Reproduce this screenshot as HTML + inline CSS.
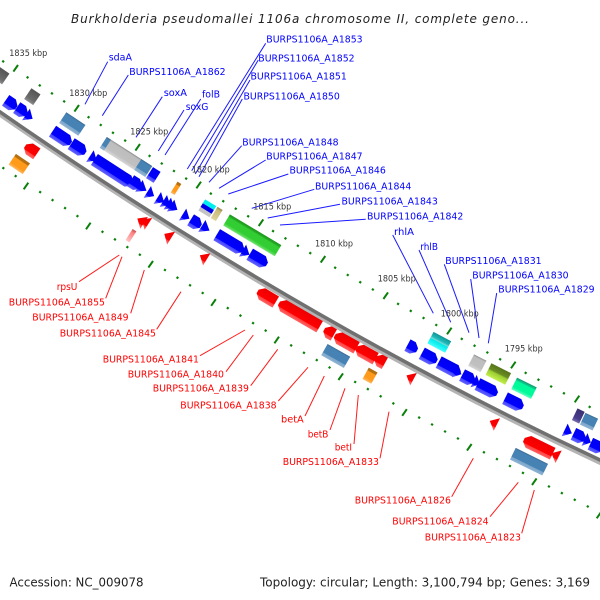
<!DOCTYPE html>
<html><head><meta charset="utf-8"><style>
html,body{margin:0;padding:0;background:#fff;width:600px;height:600px;overflow:hidden}
svg{display:block}
text{font-family:"DejaVu Sans","Liberation Sans",sans-serif}
.b{fill:#00f;font-size:10px}.r{fill:#f00;font-size:10px}.k{fill:#333;font-size:9px}.f{fill:#222;font-size:12px}
.lb line{stroke:#1a1aff;stroke-width:1}.lr line{stroke:#ff1a1a;stroke-width:1}
</style></head><body>
<svg width="600" height="600" viewBox="0 0 600 600" xmlns="http://www.w3.org/2000/svg">
<defs>
<linearGradient id="gb" x1="0" y1="0" x2="0" y2="1"><stop offset="0" stop-color="#0000ee"/><stop offset=".72" stop-color="#00f"/><stop offset=".74" stop-color="#4040ff"/><stop offset="1" stop-color="#6565ff"/></linearGradient>
<linearGradient id="gr" x1="0" y1="0" x2="0" y2="1"><stop offset="0" stop-color="#ee0000"/><stop offset=".72" stop-color="#f00"/><stop offset=".74" stop-color="#ff4040"/><stop offset="1" stop-color="#ff6565"/></linearGradient>
<linearGradient id="gs" x1="0" y1="0" x2="0" y2="1"><stop offset="0" stop-color="#38688f"/><stop offset=".12" stop-color="#4682b4"/><stop offset=".72" stop-color="#4682b4"/><stop offset=".75" stop-color="#7ba5c9"/><stop offset="1" stop-color="#8fb4d4"/></linearGradient>
<linearGradient id="gg" x1="0" y1="0" x2="0" y2="1"><stop offset="0" stop-color="#8c8c8c"/><stop offset=".14" stop-color="#bdbdbd"/><stop offset=".72" stop-color="#c0c0c0"/><stop offset="1" stop-color="#d8d8d8"/></linearGradient>
<linearGradient id="gd" x1="0" y1="0" x2="0" y2="1"><stop offset="0" stop-color="#555"/><stop offset=".72" stop-color="#6c6c6c"/><stop offset="1" stop-color="#8e8e8e"/></linearGradient>
<linearGradient id="go" x1="0" y1="0" x2="0" y2="1"><stop offset="0" stop-color="#b06c10"/><stop offset=".22" stop-color="#b87410"/><stop offset=".25" stop-color="#ff9a1a"/><stop offset=".75" stop-color="#ff9a1a"/><stop offset="1" stop-color="#ffbb66"/></linearGradient>
<linearGradient id="ge" x1="0" y1="0" x2="0" y2="1"><stop offset="0" stop-color="#1d951d"/><stop offset=".18" stop-color="#26aa26"/><stop offset=".25" stop-color="#32cd32"/><stop offset=".75" stop-color="#32cd32"/><stop offset="1" stop-color="#72e472"/></linearGradient>
<linearGradient id="gl" x1="0" y1="0" x2="0" y2="1"><stop offset="0" stop-color="#56741b"/><stop offset=".45" stop-color="#6b8e23"/><stop offset=".55" stop-color="#9acd32"/><stop offset="1" stop-color="#c4f04a"/></linearGradient>
<linearGradient id="gp" x1="0" y1="0" x2="0" y2="1"><stop offset="0" stop-color="#159a70"/><stop offset=".18" stop-color="#0cc78a"/><stop offset=".25" stop-color="#00fa9a"/><stop offset=".75" stop-color="#00fa9a"/><stop offset="1" stop-color="#66ffc4"/></linearGradient>
<linearGradient id="gc" x1="0" y1="0" x2="0" y2="1"><stop offset="0" stop-color="#109494"/><stop offset=".35" stop-color="#20bcbc"/><stop offset=".47" stop-color="#7fd8d8"/><stop offset=".55" stop-color="#00e8e8"/><stop offset="1" stop-color="#40ffff"/></linearGradient>
<linearGradient id="gt" x1="0" y1="0" x2="0" y2="1"><stop offset="0" stop-color="#8f8550"/><stop offset=".22" stop-color="#c8bb7a"/><stop offset="1" stop-color="#ded49a"/></linearGradient>
<linearGradient id="gk" x1="0" y1="0" x2="0" y2="1"><stop offset="0" stop-color="#c05050"/><stop offset=".22" stop-color="#ff8080"/><stop offset="1" stop-color="#ffc4c4"/></linearGradient>
<linearGradient id="gv" x1="0" y1="0" x2="0" y2="1"><stop offset="0" stop-color="#3a3070"/><stop offset=".72" stop-color="#483d8b"/><stop offset="1" stop-color="#7a70b0"/></linearGradient>
</defs>

<!-- backbone -->
<path d="M-5 112 Q300 324 605 465.8" fill="none" stroke="#b4b4b4" stroke-width="3"/>
<path d="M-5 108.5 Q300 320.6 605 462.3" fill="none" stroke="#707070" stroke-width="3.6"/>

<!-- tick dots -->
<path fill="none" stroke="#0a800a" stroke-width="2.2" stroke-linecap="butt" d="M2.5 62.3l1.3 -1.8M26.9 78.3l1.3 -1.8M39.1 86.3l1.3 -1.8M51.3 94.3l1.3 -1.8M63.5 102.3l1.3 -1.8M87.9 118.1l1.3 -1.8M100.1 125.9l1.3 -1.8M112.3 133.7l1.3 -1.8M124.5 141.5l1.3 -1.8M148.9 156.8l1.3 -1.8M161.1 164.4l1.3 -1.8M173.3 171.9l1.3 -1.8M185.5 179.5l1.3 -1.8M210.2 194.5l1.3 -1.8M222.6 202.1l1.3 -1.8M235.1 209.6l1.3 -1.8M247.5 217.2l1.3 -1.8M272.4 232l1.3 -1.8M284.8 239.3l1.3 -1.8M297.2 246.7l1.3 -1.8M309.6 254l1.3 -1.8M334.5 268.6l1.3 -1.8M347.1 275.9l1.3 -1.8M359.6 283.1l1.3 -1.8M372.2 290.4l1.3 -1.8M397.4 304.8l1.3 -1.8M410.1 311.8l1.3 -1.8M422.9 318.9l1.3 -1.8M435.6 325.9l1.3 -1.8M461.1 339.8l1.3 -1.8M473.9 346.6l1.3 -1.8M486.7 353.4l1.3 -1.8M499.5 360.2l1.3 -1.8M525 373.8l1.3 -1.8M537.8 380.6l1.3 -1.8M550.5 387.4l1.3 -1.8M563.3 394.2l1.3 -1.8M589 407.8l1.3 -1.8
M2.7 169l1.3 -1.8M15 177l1.3 -1.8M39.5 193l1.3 -1.8M51.9 201l1.3 -1.8M64.4 209l1.3 -1.8M76.8 217l1.3 -1.8M101.8 232.7l1.3 -1.8M114.3 240.3l1.3 -1.8M126.7 248l1.3 -1.8M139.2 255.6l1.3 -1.8M164.3 270.9l1.3 -1.8M176.8 278.6l1.3 -1.8M189.4 286.2l1.3 -1.8M202 293.9l1.3 -1.8M227.1 309l1.3 -1.8M239.8 316.5l1.3 -1.8M252.4 324l1.3 -1.8M265 331.5l1.3 -1.8M290.5 346.3l1.3 -1.8M303.3 353.7l1.3 -1.8M316.1 361l1.3 -1.8M328.9 368.4l1.3 -1.8M354.5 382.9l1.3 -1.8M367.2 390l1.3 -1.8M380 397.2l1.3 -1.8M392.7 404.3l1.3 -1.8M418.5 418.5l1.3 -1.8M431.4 425.4l1.3 -1.8M444.4 432.4l1.3 -1.8M457.3 439.4l1.3 -1.8M483.3 453.2l1.3 -1.8M496.3 460l1.3 -1.8M509.3 466.9l1.3 -1.8M522.3 473.8l1.3 -1.8M548.3 487.4l1.3 -1.8M561.2 494l1.3 -1.8M574.1 500.7l1.3 -1.8M587.1 507.4l1.3 -1.8"/>
<!-- long ticks -->
<path fill="none" stroke="#0a800a" stroke-width="2" d="M13.4 71.6l4.6 -6.6M74.4 111.6l4.6 -6.6M135.4 150.6l4.6 -6.6M196.4 188.3l4.6 -6.6M258.7 226l4.6 -6.6M320.7 262.6l4.6 -6.6M383.4 299l4.6 -6.6M447 334.3l4.6 -6.6M511 368.3l4.6 -6.6M574.7 402.3l4.6 -6.6
M23.7 189.3l4.6 -6.6M86 229.3l4.6 -6.6M148.4 267.6l4.6 -6.6M211.2 305.8l4.6 -6.6M274.4 343.3l4.6 -6.6M338.4 380l4.6 -6.6M402.2 415.8l4.6 -6.6M467 450.6l4.6 -6.6M532 485l4.6 -6.6M596.7 518.3l4.6 -6.6"/>

<!-- non-coding / row 2 features -->
<rect x="-7" y="-6.5" width="14" height="13" fill="url(#gd)" transform="translate(0 75) rotate(34.7)"/>
<rect x="-5.5" y="-6.5" width="11" height="13" fill="url(#gd)" transform="translate(32.3 96.7) rotate(34.2)"/>
<rect x="-11.5" y="-6.5" width="23" height="13" fill="url(#gs)" transform="translate(72.3 124) rotate(33.6)"/>
<g transform="translate(126 157) rotate(32.7)">
<rect x="-27" y="-6.5" width="54" height="13" fill="url(#gg)"/>
<rect x="-27" y="-6.5" width="5" height="13" fill="url(#gs)"/>
<rect x="14" y="-6.5" width="13" height="13" fill="url(#gs)"/>
</g>
<rect x="-4.5" y="-6.5" width="9" height="13" fill="url(#gb)" transform="translate(153.3 175) rotate(32.5)"/>
<rect x="-2.25" y="-6.5" width="4.5" height="13" fill="url(#go)" transform="translate(176 188.3) rotate(32)"/>
<g transform="translate(207.3 208.3) rotate(31.3)">
<rect x="-6.5" y="-6.5" width="13" height="4.5" fill="#00eeee"/>
<rect x="-6.5" y="-2" width="13" height="4.5" fill="#0000e8"/>
<rect x="-6.5" y="2.5" width="13" height="4" fill="#c4c4c4"/>
</g>
<rect x="-3" y="-6.5" width="6" height="13" fill="url(#gt)" transform="translate(216.7 214) rotate(31.2)"/>
<rect x="-30" y="-6.5" width="60" height="13" fill="url(#ge)" transform="translate(252.3 235.3) rotate(30.9)"/>
<rect x="-8.5" y="-6.5" width="17" height="13" fill="url(#go)" transform="translate(19.3 164) rotate(34.3)"/>
<rect x="-2.25" y="-6.5" width="4.5" height="13" fill="url(#gk)" transform="translate(131 235.7) rotate(32.5)"/>
<rect x="-13" y="-6.5" width="26" height="13" fill="url(#gs)" transform="translate(335.7 356) rotate(29.5)"/>
<rect x="-5" y="-6.5" width="10" height="13" fill="url(#go)" transform="translate(370 375.7) rotate(29)"/>
<rect x="-10" y="-6.5" width="20" height="13" fill="url(#gc)" transform="translate(439.3 342.3) rotate(28)"/>
<rect x="-7" y="-6.5" width="14" height="13" fill="url(#gg)" transform="translate(477.3 363.3) rotate(27.2)"/>
<rect x="-11" y="-6.5" width="22" height="13" fill="url(#gl)" transform="translate(498.3 374) rotate(26.8)"/>
<rect x="-11" y="-6.5" width="22" height="13" fill="url(#gp)" transform="translate(524 388.3) rotate(26.3)"/>
<rect x="-4" y="-6.5" width="8" height="13" fill="url(#gv)" transform="translate(578.3 416) rotate(25.3)"/>
<rect x="-7" y="-6.5" width="14" height="13" fill="url(#gs)" transform="translate(589 421.7) rotate(25.2)"/>
<rect x="-18" y="-6.5" width="36" height="13" fill="url(#gs)" transform="translate(529 461.7) rotate(26.2)"/>

<!-- blue genes -->
<g fill="url(#gb)">
<polygon points="-6.5,-6.5 1.5,-6.5 6.5,-2 6.5,2 1.5,6.5 -6.5,6.5" transform="translate(11 104) rotate(34.5)"/>
<polygon points="-6,-6.5 1,-6.5 6,-2 6,2 1,6.5 -6,6.5" transform="translate(21.7 111) rotate(34)"/>
<polygon points="-4,-7 4,0 -4,7" transform="translate(29.3 116.7) rotate(34)"/>
<polygon points="-11,-6.5 6,-6.5 11,-2 11,2 6,6.5 -11,6.5" transform="translate(61.7 137.3) rotate(33.5)"/>
<polygon points="-8.5,-6.5 3.5,-6.5 8.5,-2 8.5,2 3.5,6.5 -8.5,6.5" transform="translate(78.3 148.3) rotate(33)"/>
<polygon points="-4,-7 4,0 -4,7" transform="translate(93.3 158.3) rotate(33)"/>
<polygon points="-22.5,-6.5 17.5,-6.5 22.5,-2 22.5,2 17.5,6.5 -22.5,6.5" transform="translate(113.3 171.7) rotate(32.8)"/>
<polygon points="-6,-6.5 1,-6.5 6,-2 6,2 1,6.5 -6,6.5" transform="translate(135.7 184) rotate(32.5)"/>
<polygon points="-4.5,-7 4.5,0 -4.5,7" transform="translate(142.7 188.3) rotate(32.5)"/>
<polygon points="-4,-7 4,0 -4,7" transform="translate(150.7 194) rotate(32)"/>
<polygon points="-4,-7 4,0 -4,7" transform="translate(160.7 200) rotate(32)"/>
<polygon points="-4,-7 4,0 -4,7" transform="translate(166.7 203) rotate(32)"/>
<polygon points="-4,-7 4,0 -4,7" transform="translate(170.7 205.7) rotate(32)"/>
<polygon points="-4,-7 4,0 -4,7" transform="translate(174 207.7) rotate(32)"/>
<polygon points="-4,-7 4,0 -4,7" transform="translate(186 216.7) rotate(31.7)"/>
<polygon points="-6,-6.5 1,-6.5 6,-2 6,2 1,6.5 -6,6.5" transform="translate(195.7 223) rotate(31.5)"/>
<polygon points="-4.5,-7 4.5,0 -4.5,7" transform="translate(205.7 228.3) rotate(31.4)"/>
<polygon points="-15.5,-6.5 10.5,-6.5 15.5,-2 15.5,2 10.5,6.5 -15.5,6.5" transform="translate(230 242.7) rotate(31)"/>
<polygon points="-4,-7 4,0 -4,7" transform="translate(246 252.7) rotate(30.7)"/>
<polygon points="-10,-6.5 5,-6.5 10,-2 10,2 5,6.5 -10,6.5" transform="translate(258.3 259.3) rotate(30.5)"/>
<polygon points="-5.5,-6.5 0.5,-6.5 5.5,-2 5.5,2 0.5,6.5 -5.5,6.5" transform="translate(412.3 347.7) rotate(28.3)"/>
<polygon points="-8.5,-6.5 3.5,-6.5 8.5,-2 8.5,2 3.5,6.5 -8.5,6.5" transform="translate(429.3 357.3) rotate(28)"/>
<polygon points="-12,-6.5 7,-6.5 12,-2 12,2 7,6.5 -12,6.5" transform="translate(449.3 367.7) rotate(27.6)"/>
<polygon points="-3.5,-7 3.5,0 -3.5,7" transform="translate(458.3 372.7) rotate(27.4)"/>
<polygon points="-7,-6.5 2,-6.5 7,-2 7,2 2,6.5 -7,6.5" transform="translate(468.3 378.3) rotate(27.2)"/>
<polygon points="-3.5,-7 3.5,0 -3.5,7" transform="translate(476.7 382.7) rotate(27)"/>
<polygon points="-11,-6.5 6,-6.5 11,-2 11,2 6,6.5 -11,6.5" transform="translate(487.3 389) rotate(26.8)"/>
<polygon points="-10,-6.5 5,-6.5 10,-2 10,2 5,6.5 -10,6.5" transform="translate(514 402.7) rotate(26.5)"/>
<polygon points="-4,-7 4,0 -4,7" transform="translate(568.3 431.7) rotate(25.5)"/>
<polygon points="-6.5,-6.5 1.5,-6.5 6.5,-2 6.5,2 1.5,6.5 -6.5,6.5" transform="translate(579.3 436.7) rotate(25.3)"/>
<polygon points="-3.5,-7 3.5,0 -3.5,7" transform="translate(587.7 441) rotate(25.2)"/>
<polygon points="-7,-6.5 2,-6.5 7,-2 7,2 2,6.5 -7,6.5" transform="translate(596.7 446.7) rotate(25)"/>
</g>

<!-- red genes -->
<g fill="url(#gr)">
<polygon points="7,-6.5 -2,-6.5 -7,-2 -7,2 -2,6.5 7,6.5" transform="translate(31 150) rotate(34)"/>
<polygon points="10.5,-6.5 -5.5,-6.5 -10.5,-2 -10.5,2 -5.5,6.5 10.5,6.5" transform="translate(266.7 296.7) rotate(30.6)"/>
<polygon points="23.5,-6.5 -18.5,-6.5 -23.5,-2 -23.5,2 -18.5,6.5 23.5,6.5" transform="translate(299.3 315) rotate(30.1)"/>
<polygon points="5.5,-6.5 -0.5,-6.5 -5.5,-2 -5.5,2 -0.5,6.5 5.5,6.5" transform="translate(329 332.3) rotate(29.6)"/>
<polygon points="12.5,-6.5 -7.5,-6.5 -12.5,-2 -12.5,2 -7.5,6.5 12.5,6.5" transform="translate(345.7 341.7) rotate(29.3)"/>
<polygon points="11,-6.5 -6,-6.5 -11,-2 -11,2 -6,6.5 11,6.5" transform="translate(366 353.3) rotate(29)"/>
<polygon points="5.5,-6.5 -0.5,-6.5 -5.5,-2 -5.5,2 -0.5,6.5 5.5,6.5" transform="translate(380 360.7) rotate(28.8)"/>
<polygon points="16,-6.5 -11,-6.5 -16,-2 -16,2 -11,6.5 16,6.5" transform="translate(538.3 446.7) rotate(26)"/>
<polygon points="4,-7 -4,0 4,7" transform="translate(555 455) rotate(26)"/>
<polygon points="4,-7 -4,0 4,7" transform="translate(140.7 220.7) rotate(32.5)"/>
<polygon points="4,-7 -4,0 4,7" transform="translate(145 221.7) rotate(32.5)"/>
<polygon points="4,-7.5 -4,0 4,7.5" transform="translate(167.7 236) rotate(32)"/>
<polygon points="4,-7 -4,0 4,7" transform="translate(203.3 257.3) rotate(31.5)"/>
<polygon points="4,-7 -4,0 4,7" transform="translate(410 377.3) rotate(28.3)"/>
<polygon points="4,-7 -4,0 4,7" transform="translate(493.3 422.7) rotate(26.5)"/>
</g>

<!-- leaders blue -->
<g class="lb">
<line x1="107.7" y1="61.7" x2="85" y2="104.3"/>
<line x1="128.3" y1="75" x2="102.3" y2="115.7"/>
<line x1="162.3" y1="96.7" x2="136" y2="137.3"/>
<line x1="184" y1="110" x2="158.3" y2="151"/>
<line x1="200.7" y1="99" x2="165" y2="155"/>
<line x1="265.7" y1="43.3" x2="187.3" y2="169"/>
<line x1="258.3" y1="60" x2="191.7" y2="170.7"/>
<line x1="250" y1="80" x2="195.3" y2="174"/>
<line x1="242.3" y1="99" x2="199" y2="176.7"/>
<line x1="241.7" y1="145.7" x2="209" y2="182.3"/>
<line x1="265.7" y1="160" x2="219" y2="188.3"/>
<line x1="288.3" y1="174" x2="228.3" y2="194"/>
<line x1="314.3" y1="189.3" x2="251.7" y2="208.3"/>
<line x1="340" y1="204.3" x2="267.7" y2="218"/>
<line x1="365.7" y1="219.3" x2="280" y2="225"/>
<line x1="392.7" y1="235" x2="433.3" y2="313.3"/>
<line x1="419" y1="250" x2="450.7" y2="322.3"/>
<line x1="444.3" y1="264.3" x2="469" y2="332.7"/>
<line x1="470.7" y1="279" x2="479" y2="338"/>
<line x1="496.7" y1="293" x2="488.3" y2="343.3"/>
</g>
<!-- leaders red -->
<g class="lr">
<line x1="79" y1="281.7" x2="119.3" y2="255"/>
<line x1="105.7" y1="298.3" x2="122" y2="256.7"/>
<line x1="130.7" y1="313.3" x2="144.3" y2="270"/>
<line x1="156.7" y1="329.3" x2="181" y2="291.7"/>
<line x1="200" y1="355.7" x2="245" y2="330"/>
<line x1="226" y1="371.7" x2="253.3" y2="335"/>
<line x1="250.7" y1="385.7" x2="277.7" y2="349.3"/>
<line x1="278.3" y1="401" x2="308" y2="367.3"/>
<line x1="305" y1="416" x2="324.3" y2="376"/>
<line x1="330" y1="430" x2="345" y2="388.3"/>
<line x1="354" y1="444" x2="358.3" y2="395"/>
<line x1="380" y1="458.3" x2="389" y2="411.7"/>
<line x1="451.7" y1="496.7" x2="473.3" y2="458.3"/>
<line x1="490" y1="516.7" x2="518.3" y2="482.3"/>
<line x1="521.7" y1="533.3" x2="534.3" y2="490"/>
</g>

<!-- title -->
<text x="71" y="23" font-size="12" font-style="italic" fill="#222" textLength="458" lengthAdjust="spacing">Burkholderia pseudomallei 1106a chromosome II, complete geno...</text>

<!-- kbp labels -->
<text class="k" x="9.3" y="56" textLength="38" lengthAdjust="spacingAndGlyphs">1835 kbp</text>
<text class="k" x="69.3" y="96" textLength="38" lengthAdjust="spacingAndGlyphs">1830 kbp</text>
<text class="k" x="130.3" y="134.3" textLength="38" lengthAdjust="spacingAndGlyphs">1825 kbp</text>
<text class="k" x="191.7" y="172.3" textLength="38" lengthAdjust="spacingAndGlyphs">1820 kbp</text>
<text class="k" x="253.3" y="209.3" textLength="38" lengthAdjust="spacingAndGlyphs">1815 kbp</text>
<text class="k" x="315" y="246.5" textLength="38" lengthAdjust="spacingAndGlyphs">1810 kbp</text>
<text class="k" x="377.7" y="281.7" textLength="38" lengthAdjust="spacingAndGlyphs">1805 kbp</text>
<text class="k" x="440.7" y="316.7" textLength="38" lengthAdjust="spacingAndGlyphs">1800 kbp</text>
<text class="k" x="504.7" y="351.7" textLength="38" lengthAdjust="spacingAndGlyphs">1795 kbp</text>

<!-- blue labels -->
<text class="b" x="108.7" y="60.7" textLength="23.3" lengthAdjust="spacingAndGlyphs">sdaA</text>
<text class="b" x="129.3" y="75" textLength="96.3" lengthAdjust="spacingAndGlyphs">BURPS1106A_A1862</text>
<text class="b" x="163.7" y="96" textLength="23.3" lengthAdjust="spacingAndGlyphs">soxA</text>
<text class="b" x="185.7" y="110" textLength="22.7" lengthAdjust="spacingAndGlyphs">soxG</text>
<text class="b" x="202" y="97.7" textLength="18" lengthAdjust="spacingAndGlyphs">folB</text>
<text class="b" x="266.3" y="42.5" textLength="96.3" lengthAdjust="spacingAndGlyphs">BURPS1106A_A1853</text>
<text class="b" x="258.3" y="61.7" textLength="96.3" lengthAdjust="spacingAndGlyphs">BURPS1106A_A1852</text>
<text class="b" x="250.5" y="79.5" textLength="96.3" lengthAdjust="spacingAndGlyphs">BURPS1106A_A1851</text>
<text class="b" x="243.5" y="99.5" textLength="96.3" lengthAdjust="spacingAndGlyphs">BURPS1106A_A1850</text>
<text class="b" x="242.3" y="145.5" textLength="96.3" lengthAdjust="spacingAndGlyphs">BURPS1106A_A1848</text>
<text class="b" x="266.3" y="159.7" textLength="96.3" lengthAdjust="spacingAndGlyphs">BURPS1106A_A1847</text>
<text class="b" x="289.5" y="173.7" textLength="96.3" lengthAdjust="spacingAndGlyphs">BURPS1106A_A1846</text>
<text class="b" x="315" y="189.5" textLength="96.3" lengthAdjust="spacingAndGlyphs">BURPS1106A_A1844</text>
<text class="b" x="341.5" y="204.5" textLength="96.3" lengthAdjust="spacingAndGlyphs">BURPS1106A_A1843</text>
<text class="b" x="367" y="219.5" textLength="96.3" lengthAdjust="spacingAndGlyphs">BURPS1106A_A1842</text>
<text class="b" x="394" y="235" textLength="20" lengthAdjust="spacingAndGlyphs">rhlA</text>
<text class="b" x="420.3" y="250" textLength="17.7" lengthAdjust="spacingAndGlyphs">rhlB</text>
<text class="b" x="445.3" y="264" textLength="96.3" lengthAdjust="spacingAndGlyphs">BURPS1106A_A1831</text>
<text class="b" x="472.3" y="278.7" textLength="96.3" lengthAdjust="spacingAndGlyphs">BURPS1106A_A1830</text>
<text class="b" x="498.3" y="292.7" textLength="96.3" lengthAdjust="spacingAndGlyphs">BURPS1106A_A1829</text>

<!-- red labels -->
<text class="r" x="56.7" y="290" textLength="20.7" lengthAdjust="spacingAndGlyphs">rpsU</text>
<text class="r" x="8.7" y="305.7" textLength="96.3" lengthAdjust="spacingAndGlyphs">BURPS1106A_A1855</text>
<text class="r" x="32.3" y="320.3" textLength="96.3" lengthAdjust="spacingAndGlyphs">BURPS1106A_A1849</text>
<text class="r" x="59.7" y="336.3" textLength="96.3" lengthAdjust="spacingAndGlyphs">BURPS1106A_A1845</text>
<text class="r" x="102.7" y="362.3" textLength="96.3" lengthAdjust="spacingAndGlyphs">BURPS1106A_A1841</text>
<text class="r" x="127.7" y="377.3" textLength="96.3" lengthAdjust="spacingAndGlyphs">BURPS1106A_A1840</text>
<text class="r" x="152.7" y="391.3" textLength="96.3" lengthAdjust="spacingAndGlyphs">BURPS1106A_A1839</text>
<text class="r" x="180.3" y="408.3" textLength="96.3" lengthAdjust="spacingAndGlyphs">BURPS1106A_A1838</text>
<text class="r" x="281" y="422.7" textLength="22.7" lengthAdjust="spacingAndGlyphs">betA</text>
<text class="r" x="307.7" y="437.7" textLength="20.7" lengthAdjust="spacingAndGlyphs">betB</text>
<text class="r" x="334.7" y="450.7" textLength="17.3" lengthAdjust="spacingAndGlyphs">betI</text>
<text class="r" x="282.7" y="465" textLength="96.3" lengthAdjust="spacingAndGlyphs">BURPS1106A_A1833</text>
<text class="r" x="354.7" y="503.3" textLength="96.3" lengthAdjust="spacingAndGlyphs">BURPS1106A_A1826</text>
<text class="r" x="392.3" y="524.7" textLength="96.3" lengthAdjust="spacingAndGlyphs">BURPS1106A_A1824</text>
<text class="r" x="424.7" y="540.7" textLength="96.3" lengthAdjust="spacingAndGlyphs">BURPS1106A_A1823</text>

<!-- footer -->
<text class="f" x="9.5" y="586.7" textLength="134" lengthAdjust="spacingAndGlyphs">Accession: NC_009078</text>
<text class="f" x="260" y="586.7" textLength="330" lengthAdjust="spacingAndGlyphs">Topology: circular; Length: 3,100,794 bp; Genes: 3,169</text>
</svg>
</body></html>
